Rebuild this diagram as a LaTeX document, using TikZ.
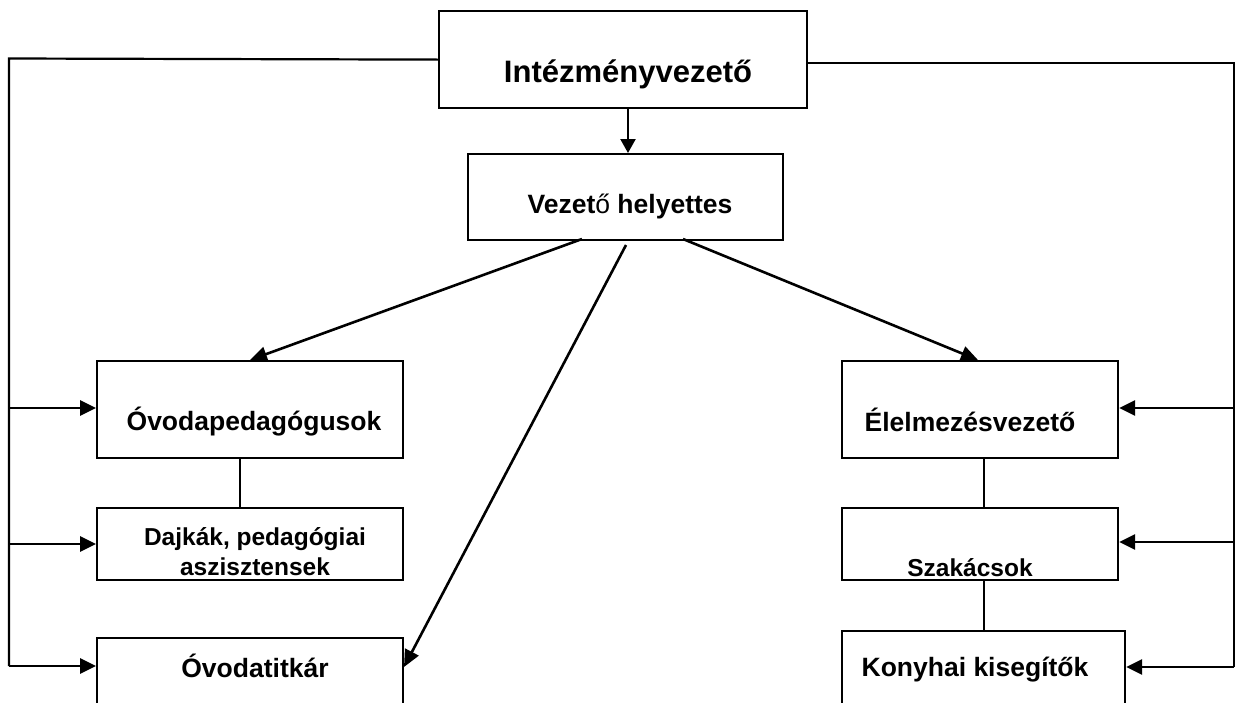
\documentclass[tikz,border=0pt]{standalone}
\usepackage{fontspec}
\setmainfont{Liberation Sans}
\usetikzlibrary{arrows.meta,calc}
\begin{document}
\begin{tikzpicture}[x=1pt,y=-1pt,
  boxst/.style={draw,line width=2.2pt,rectangle,inner sep=0pt,anchor=north west},
  lblbig/.style={font=\bfseries\fontsize{31}{36}\selectfont,anchor=base,inner sep=0pt},
  lbl/.style={font=\bfseries\fontsize{26.5}{31}\selectfont,anchor=base,inner sep=0pt},
  lbls/.style={font=\bfseries\fontsize{24.5}{29}\selectfont,anchor=base,inner sep=0pt},
  ln/.style={line width=2.2pt},
  thin/.style={line width=1.6pt},
  arr/.style={line width=2.8pt,-{Triangle[length=16pt,width=15pt]}},
  arrd/.style={line width=2.6pt,-{Triangle[length=17pt,width=15pt]}}]
\useasboundingbox (0,0) rectangle (1236,702);
\clip (0,0) rectangle (1236,702);
% boxes
\node[boxst,minimum width=368pt,minimum height=97pt] (top) at (438,10) {};
\node[boxst,minimum width=315pt,minimum height=86pt] (vh) at (467,153) {};
\node[boxst,minimum width=306pt,minimum height=97pt] (ovp) at (96,360) {};
\node[boxst,minimum width=306pt,minimum height=72pt] (daj) at (96,507) {};
\node[boxst,minimum width=306pt,minimum height=90pt] (tit) at (96,637) {};
\node[boxst,minimum width=276pt,minimum height=97pt] (ele) at (841,360) {};
\node[boxst,minimum width=276pt,minimum height=72pt] (sza) at (841,507) {};
\node[boxst,minimum width=283pt,minimum height=90pt] (kon) at (841,630) {};
% labels
\node[lblbig] (ttop) at (628,82) {Intézményvezető};
\node[lbl] (tvh) at (630,213) {Vezet{\mdseries ő} helyettes};
\node[lbl] (tovp) at (254,430) {Óvodapedagógusok};
\node[lbls] (tdaj1) at (255,545) {Dajkák, pedagógiai};
\node[lbls] (tdaj2) at (255,575) {aszisztensek};
\node[lbl] (ttit) at (255,677) {Óvodatitkár};
\node[lbl] (tele) at (970,431) {Élelmezésvezető};
\node[lbls] (tsza) at (970,576) {Szakácsok};
\node[lbl] (tkon) at (975,676) {Konyhai kisegítők};
% bus coordinates
\coordinate (LT) at (9,58.5);
\coordinate (LB) at (9,666);
\coordinate (RT) at (1234,63);
\coordinate (RB) at (1234,667);
% left bus
\draw[ln] (top.west) -- (LT) -- (LB);
\draw[arr] (9,408) -- (ovp.west |- 0,408);
\draw[arr] (9,544) -- (daj.west |- 0,544);
\draw[arr] (LB) -- (tit.west |- LB);
% right bus
\draw[ln] (top.east |- RT) -- (RT) -- (RB);
\draw[arr] (1234,408) -- (ele.east |- 0,408);
\draw[arr] (1234,542) -- (sza.east |- 0,542);
\draw[arr] (RB) -- (kon.east |- RB);
% top to deputy
\draw[ln,-{Triangle[length=14pt,width=15pt]}] (628,107) -- (628,153);
% deputy to groups
\coordinate (vhA) at (582,239);
\coordinate (vhB) at (683,239);
\coordinate (vhC) at (626,245);
\draw[arrd] (vhA) -- (250,360);
\draw[arrd] (vhB) -- (978,360);
\draw[arrd] (vhC) -- (404,667);
% vertical links
\draw[thin] (240,457) -- (240,507);
\draw[thin] (984,457) -- (984,507);
\draw[thin] (984,579) -- (984,630);
\end{tikzpicture}
\end{document}
